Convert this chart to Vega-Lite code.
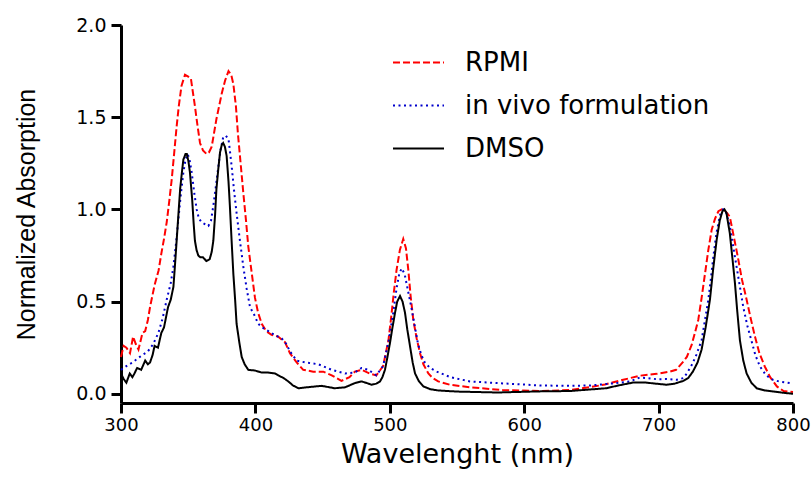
{
  "$schema": "https://vega.github.io/schema/vega-lite/v6.json",
  "width": 672,
  "height": 378,
  "autosize": {"type": "none"},
  "padding": {"left": 121, "top": 25, "right": 18, "bottom": 75},
  "background": "white",
  "config": {"view": {"stroke": null}, "font": "DejaVu Sans"},
  "data": {"values": [
    {"s":"RPMI","x":300,"y":0.2},{"s":"RPMI","x":302,"y":0.26},{"s":"RPMI","x":304,"y":0.25},{"s":"RPMI","x":306.7,"y":0.22},{"s":"RPMI","x":309,"y":0.31},{"s":"RPMI","x":311,"y":0.27},{"s":"RPMI","x":313,"y":0.24},{"s":"RPMI","x":316,"y":0.33},{"s":"RPMI","x":318,"y":0.34},{"s":"RPMI","x":320,"y":0.4},{"s":"RPMI","x":321.6,"y":0.47},{"s":"RPMI","x":325,"y":0.59},{"s":"RPMI","x":328,"y":0.67},{"s":"RPMI","x":330,"y":0.76},{"s":"RPMI","x":332,"y":0.84},{"s":"RPMI","x":334,"y":0.93},{"s":"RPMI","x":336,"y":1.05},{"s":"RPMI","x":337.7,"y":1.16},{"s":"RPMI","x":339.5,"y":1.3},{"s":"RPMI","x":341.4,"y":1.45},{"s":"RPMI","x":343,"y":1.56},{"s":"RPMI","x":345,"y":1.67},{"s":"RPMI","x":347.6,"y":1.73},{"s":"RPMI","x":350,"y":1.72},{"s":"RPMI","x":352,"y":1.71},{"s":"RPMI","x":355,"y":1.56},{"s":"RPMI","x":357,"y":1.45},{"s":"RPMI","x":358.8,"y":1.36},{"s":"RPMI","x":361,"y":1.32},{"s":"RPMI","x":363.7,"y":1.3},{"s":"RPMI","x":365.5,"y":1.31},{"s":"RPMI","x":367.5,"y":1.34},{"s":"RPMI","x":371,"y":1.49},{"s":"RPMI","x":373,"y":1.56},{"s":"RPMI","x":375,"y":1.63},{"s":"RPMI","x":377.5,"y":1.7},{"s":"RPMI","x":380,"y":1.75},{"s":"RPMI","x":382,"y":1.73},{"s":"RPMI","x":383.6,"y":1.68},{"s":"RPMI","x":385.5,"y":1.56},{"s":"RPMI","x":387,"y":1.41},{"s":"RPMI","x":389,"y":1.25},{"s":"RPMI","x":391,"y":1.09},{"s":"RPMI","x":393,"y":0.94},{"s":"RPMI","x":394.7,"y":0.8},{"s":"RPMI","x":397,"y":0.67},{"s":"RPMI","x":399.7,"y":0.52},{"s":"RPMI","x":402,"y":0.44},{"s":"RPMI","x":404.7,"y":0.38},{"s":"RPMI","x":408,"y":0.34},{"s":"RPMI","x":412,"y":0.32},{"s":"RPMI","x":417,"y":0.31},{"s":"RPMI","x":422,"y":0.28},{"s":"RPMI","x":425.7,"y":0.22},{"s":"RPMI","x":430.7,"y":0.17},{"s":"RPMI","x":435.6,"y":0.13},{"s":"RPMI","x":443,"y":0.12},{"s":"RPMI","x":450.5,"y":0.12},{"s":"RPMI","x":456.8,"y":0.1},{"s":"RPMI","x":464,"y":0.07},{"s":"RPMI","x":470,"y":0.09},{"s":"RPMI","x":474,"y":0.12},{"s":"RPMI","x":479,"y":0.13},{"s":"RPMI","x":485,"y":0.11},{"s":"RPMI","x":490,"y":0.1},{"s":"RPMI","x":495,"y":0.15},{"s":"RPMI","x":499,"y":0.29},{"s":"RPMI","x":501.4,"y":0.44},{"s":"RPMI","x":503,"y":0.55},{"s":"RPMI","x":505,"y":0.67},{"s":"RPMI","x":507.5,"y":0.78},{"s":"RPMI","x":510,"y":0.84},{"s":"RPMI","x":512,"y":0.79},{"s":"RPMI","x":513.8,"y":0.67},{"s":"RPMI","x":515.5,"y":0.53},{"s":"RPMI","x":517.5,"y":0.4},{"s":"RPMI","x":520,"y":0.3},{"s":"RPMI","x":522.5,"y":0.22},{"s":"RPMI","x":525,"y":0.16},{"s":"RPMI","x":528.7,"y":0.11},{"s":"RPMI","x":532,"y":0.085},{"s":"RPMI","x":536,"y":0.067},{"s":"RPMI","x":544.8,"y":0.049},{"s":"RPMI","x":560,"y":0.035},{"s":"RPMI","x":584,"y":0.02},{"s":"RPMI","x":611.7,"y":0.015},{"s":"RPMI","x":634,"y":0.02},{"s":"RPMI","x":649,"y":0.036},{"s":"RPMI","x":660,"y":0.05},{"s":"RPMI","x":673.7,"y":0.076},{"s":"RPMI","x":686,"y":0.098},{"s":"RPMI","x":698.6,"y":0.108},{"s":"RPMI","x":708.5,"y":0.12},{"s":"RPMI","x":713,"y":0.13},{"s":"RPMI","x":718.4,"y":0.175},{"s":"RPMI","x":721,"y":0.2},{"s":"RPMI","x":724.6,"y":0.265},{"s":"RPMI","x":727,"y":0.33},{"s":"RPMI","x":729.5,"y":0.4},{"s":"RPMI","x":732,"y":0.52},{"s":"RPMI","x":734.5,"y":0.65},{"s":"RPMI","x":737,"y":0.78},{"s":"RPMI","x":739.5,"y":0.89},{"s":"RPMI","x":742,"y":0.95},{"s":"RPMI","x":744.5,"y":0.99},{"s":"RPMI","x":747,"y":1.0},{"s":"RPMI","x":749,"y":0.995},{"s":"RPMI","x":751,"y":0.98},{"s":"RPMI","x":753,"y":0.96},{"s":"RPMI","x":756,"y":0.85},{"s":"RPMI","x":759,"y":0.74},{"s":"RPMI","x":762,"y":0.62},{"s":"RPMI","x":765.5,"y":0.51},{"s":"RPMI","x":768.5,"y":0.41},{"s":"RPMI","x":771.7,"y":0.31},{"s":"RPMI","x":775,"y":0.22},{"s":"RPMI","x":779,"y":0.148},{"s":"RPMI","x":783,"y":0.09},{"s":"RPMI","x":788,"y":0.04},{"s":"RPMI","x":793,"y":0.015},{"s":"RPMI","x":800,"y":0.01},

    {"s":"in vivo formulation","x":300,"y":0.13},{"s":"in vivo formulation","x":304,"y":0.15},{"s":"in vivo formulation","x":308.5,"y":0.17},{"s":"in vivo formulation","x":314,"y":0.2},{"s":"in vivo formulation","x":320,"y":0.23},{"s":"in vivo formulation","x":324,"y":0.27},{"s":"in vivo formulation","x":327.8,"y":0.33},{"s":"in vivo formulation","x":331,"y":0.41},{"s":"in vivo formulation","x":334,"y":0.51},{"s":"in vivo formulation","x":337,"y":0.6},{"s":"in vivo formulation","x":339,"y":0.69},{"s":"in vivo formulation","x":341,"y":0.82},{"s":"in vivo formulation","x":342.6,"y":0.94},{"s":"in vivo formulation","x":344.5,"y":1.08},{"s":"in vivo formulation","x":346.4,"y":1.2},{"s":"in vivo formulation","x":348,"y":1.27},{"s":"in vivo formulation","x":349.6,"y":1.3},{"s":"in vivo formulation","x":351,"y":1.27},{"s":"in vivo formulation","x":352.6,"y":1.2},{"s":"in vivo formulation","x":354.5,"y":1.09},{"s":"in vivo formulation","x":356.3,"y":1.0},{"s":"in vivo formulation","x":358,"y":0.95},{"s":"in vivo formulation","x":360,"y":0.93},{"s":"in vivo formulation","x":365,"y":0.91},{"s":"in vivo formulation","x":367,"y":0.94},{"s":"in vivo formulation","x":368.7,"y":1.02},{"s":"in vivo formulation","x":370.5,"y":1.12},{"s":"in vivo formulation","x":372.4,"y":1.23},{"s":"in vivo formulation","x":374,"y":1.32},{"s":"in vivo formulation","x":376,"y":1.39},{"s":"in vivo formulation","x":378,"y":1.4},{"s":"in vivo formulation","x":380,"y":1.38},{"s":"in vivo formulation","x":381,"y":1.32},{"s":"in vivo formulation","x":382.4,"y":1.23},{"s":"in vivo formulation","x":384,"y":1.11},{"s":"in vivo formulation","x":386,"y":0.98},{"s":"in vivo formulation","x":388.5,"y":0.83},{"s":"in vivo formulation","x":391,"y":0.69},{"s":"in vivo formulation","x":393.5,"y":0.57},{"s":"in vivo formulation","x":396,"y":0.47},{"s":"in vivo formulation","x":399.7,"y":0.42},{"s":"in vivo formulation","x":402,"y":0.38},{"s":"in vivo formulation","x":405,"y":0.36},{"s":"in vivo formulation","x":409.6,"y":0.34},{"s":"in vivo formulation","x":414,"y":0.32},{"s":"in vivo formulation","x":419.6,"y":0.3},{"s":"in vivo formulation","x":423,"y":0.27},{"s":"in vivo formulation","x":425.7,"y":0.23},{"s":"in vivo formulation","x":430.7,"y":0.18},{"s":"in vivo formulation","x":437,"y":0.17},{"s":"in vivo formulation","x":446.8,"y":0.16},{"s":"in vivo formulation","x":456.8,"y":0.13},{"s":"in vivo formulation","x":466.7,"y":0.11},{"s":"in vivo formulation","x":474,"y":0.115},{"s":"in vivo formulation","x":479,"y":0.14},{"s":"in vivo formulation","x":484,"y":0.13},{"s":"in vivo formulation","x":490,"y":0.1},{"s":"in vivo formulation","x":495,"y":0.15},{"s":"in vivo formulation","x":499,"y":0.28},{"s":"in vivo formulation","x":502.6,"y":0.44},{"s":"in vivo formulation","x":505,"y":0.57},{"s":"in vivo formulation","x":507,"y":0.65},{"s":"in vivo formulation","x":508.8,"y":0.68},{"s":"in vivo formulation","x":511,"y":0.65},{"s":"in vivo formulation","x":513.5,"y":0.56},{"s":"in vivo formulation","x":516,"y":0.47},{"s":"in vivo formulation","x":518.5,"y":0.37},{"s":"in vivo formulation","x":521,"y":0.27},{"s":"in vivo formulation","x":523.5,"y":0.21},{"s":"in vivo formulation","x":526,"y":0.17},{"s":"in vivo formulation","x":530,"y":0.14},{"s":"in vivo formulation","x":535,"y":0.12},{"s":"in vivo formulation","x":545,"y":0.09},{"s":"in vivo formulation","x":559.6,"y":0.067},{"s":"in vivo formulation","x":580,"y":0.058},{"s":"in vivo formulation","x":600,"y":0.05},{"s":"in vivo formulation","x":611.7,"y":0.045},{"s":"in vivo formulation","x":634,"y":0.043},{"s":"in vivo formulation","x":649,"y":0.045},{"s":"in vivo formulation","x":668.8,"y":0.058},{"s":"in vivo formulation","x":678.7,"y":0.067},{"s":"in vivo formulation","x":686,"y":0.088},{"s":"in vivo formulation","x":692,"y":0.085},{"s":"in vivo formulation","x":698.6,"y":0.079},{"s":"in vivo formulation","x":706,"y":0.08},{"s":"in vivo formulation","x":713.5,"y":0.076},{"s":"in vivo formulation","x":718.4,"y":0.085},{"s":"in vivo formulation","x":721,"y":0.11},{"s":"in vivo formulation","x":725,"y":0.16},{"s":"in vivo formulation","x":728,"y":0.21},{"s":"in vivo formulation","x":732,"y":0.29},{"s":"in vivo formulation","x":734.5,"y":0.4},{"s":"in vivo formulation","x":737,"y":0.51},{"s":"in vivo formulation","x":739,"y":0.63},{"s":"in vivo formulation","x":740.7,"y":0.74},{"s":"in vivo formulation","x":743,"y":0.87},{"s":"in vivo formulation","x":745.7,"y":0.97},{"s":"in vivo formulation","x":748,"y":1.0},{"s":"in vivo formulation","x":750,"y":0.99},{"s":"in vivo formulation","x":753,"y":0.91},{"s":"in vivo formulation","x":755.5,"y":0.8},{"s":"in vivo formulation","x":758,"y":0.69},{"s":"in vivo formulation","x":760.5,"y":0.58},{"s":"in vivo formulation","x":763,"y":0.47},{"s":"in vivo formulation","x":766,"y":0.37},{"s":"in vivo formulation","x":769,"y":0.29},{"s":"in vivo formulation","x":772,"y":0.21},{"s":"in vivo formulation","x":775.4,"y":0.148},{"s":"in vivo formulation","x":780,"y":0.1},{"s":"in vivo formulation","x":785,"y":0.076},{"s":"in vivo formulation","x":790,"y":0.066},{"s":"in vivo formulation","x":795,"y":0.061},{"s":"in vivo formulation","x":800,"y":0.055},

    {"s":"DMSO","x":300,"y":0.11},{"s":"DMSO","x":302,"y":0.08},{"s":"DMSO","x":304,"y":0.06},{"s":"DMSO","x":306.5,"y":0.11},{"s":"DMSO","x":308.5,"y":0.09},{"s":"DMSO","x":310,"y":0.11},{"s":"DMSO","x":312,"y":0.14},{"s":"DMSO","x":315,"y":0.13},{"s":"DMSO","x":318,"y":0.18},{"s":"DMSO","x":320,"y":0.16},{"s":"DMSO","x":321.6,"y":0.17},{"s":"DMSO","x":323.5,"y":0.21},{"s":"DMSO","x":325,"y":0.26},{"s":"DMSO","x":327.5,"y":0.25},{"s":"DMSO","x":330,"y":0.33},{"s":"DMSO","x":332,"y":0.36},{"s":"DMSO","x":335,"y":0.47},{"s":"DMSO","x":337,"y":0.51},{"s":"DMSO","x":339,"y":0.58},{"s":"DMSO","x":340,"y":0.68},{"s":"DMSO","x":341.4,"y":0.83},{"s":"DMSO","x":342.7,"y":0.97},{"s":"DMSO","x":344,"y":1.11},{"s":"DMSO","x":345.3,"y":1.2},{"s":"DMSO","x":346.4,"y":1.27},{"s":"DMSO","x":348,"y":1.3},{"s":"DMSO","x":349,"y":1.3},{"s":"DMSO","x":350.2,"y":1.26},{"s":"DMSO","x":351.3,"y":1.2},{"s":"DMSO","x":352.2,"y":1.12},{"s":"DMSO","x":353,"y":1.05},{"s":"DMSO","x":354,"y":0.93},{"s":"DMSO","x":355,"y":0.83},{"s":"DMSO","x":356.2,"y":0.78},{"s":"DMSO","x":357.5,"y":0.75},{"s":"DMSO","x":359,"y":0.74},{"s":"DMSO","x":361,"y":0.74},{"s":"DMSO","x":363.5,"y":0.72},{"s":"DMSO","x":366,"y":0.73},{"s":"DMSO","x":367.5,"y":0.77},{"s":"DMSO","x":368.7,"y":0.83},{"s":"DMSO","x":370,"y":0.97},{"s":"DMSO","x":371,"y":1.11},{"s":"DMSO","x":372.4,"y":1.22},{"s":"DMSO","x":373.7,"y":1.31},{"s":"DMSO","x":375,"y":1.35},{"s":"DMSO","x":376,"y":1.36},{"s":"DMSO","x":377.3,"y":1.34},{"s":"DMSO","x":378.6,"y":1.29},{"s":"DMSO","x":380,"y":1.15},{"s":"DMSO","x":381,"y":1.02},{"s":"DMSO","x":382.3,"y":0.83},{"s":"DMSO","x":383.6,"y":0.65},{"s":"DMSO","x":385,"y":0.5},{"s":"DMSO","x":386,"y":0.38},{"s":"DMSO","x":388,"y":0.28},{"s":"DMSO","x":389.8,"y":0.2},{"s":"DMSO","x":392,"y":0.16},{"s":"DMSO","x":394.7,"y":0.13},{"s":"DMSO","x":399.7,"y":0.126},{"s":"DMSO","x":404.7,"y":0.115},{"s":"DMSO","x":409.6,"y":0.115},{"s":"DMSO","x":414.6,"y":0.11},{"s":"DMSO","x":417,"y":0.1},{"s":"DMSO","x":421,"y":0.085},{"s":"DMSO","x":424.5,"y":0.067},{"s":"DMSO","x":428,"y":0.045},{"s":"DMSO","x":432,"y":0.03},{"s":"DMSO","x":439.4,"y":0.036},{"s":"DMSO","x":449.3,"y":0.043},{"s":"DMSO","x":459,"y":0.03},{"s":"DMSO","x":466.7,"y":0.035},{"s":"DMSO","x":474,"y":0.058},{"s":"DMSO","x":479,"y":0.067},{"s":"DMSO","x":483,"y":0.058},{"s":"DMSO","x":486.5,"y":0.049},{"s":"DMSO","x":490,"y":0.055},{"s":"DMSO","x":492.7,"y":0.067},{"s":"DMSO","x":494.5,"y":0.09},{"s":"DMSO","x":496.4,"y":0.13},{"s":"DMSO","x":498,"y":0.19},{"s":"DMSO","x":500,"y":0.27},{"s":"DMSO","x":502,"y":0.36},{"s":"DMSO","x":503.9,"y":0.44},{"s":"DMSO","x":505.5,"y":0.5},{"s":"DMSO","x":507.6,"y":0.53},{"s":"DMSO","x":509.5,"y":0.5},{"s":"DMSO","x":511.3,"y":0.44},{"s":"DMSO","x":513,"y":0.35},{"s":"DMSO","x":515,"y":0.26},{"s":"DMSO","x":517,"y":0.17},{"s":"DMSO","x":518.8,"y":0.11},{"s":"DMSO","x":521.5,"y":0.07},{"s":"DMSO","x":525,"y":0.04},{"s":"DMSO","x":530,"y":0.025},{"s":"DMSO","x":536,"y":0.018},{"s":"DMSO","x":550,"y":0.012},{"s":"DMSO","x":580,"y":0.007},{"s":"DMSO","x":611.7,"y":0.013},{"s":"DMSO","x":634,"y":0.015},{"s":"DMSO","x":661,"y":0.03},{"s":"DMSO","x":670,"y":0.045},{"s":"DMSO","x":681,"y":0.061},{"s":"DMSO","x":690,"y":0.061},{"s":"DMSO","x":698,"y":0.055},{"s":"DMSO","x":706,"y":0.049},{"s":"DMSO","x":712,"y":0.055},{"s":"DMSO","x":718.4,"y":0.07},{"s":"DMSO","x":722,"y":0.085},{"s":"DMSO","x":725.5,"y":0.12},{"s":"DMSO","x":729,"y":0.17},{"s":"DMSO","x":732,"y":0.24},{"s":"DMSO","x":735,"y":0.36},{"s":"DMSO","x":738.2,"y":0.51},{"s":"DMSO","x":740.5,"y":0.67},{"s":"DMSO","x":743.2,"y":0.835},{"s":"DMSO","x":745.5,"y":0.94},{"s":"DMSO","x":747.5,"y":0.99},{"s":"DMSO","x":749,"y":1.0},{"s":"DMSO","x":750.5,"y":0.98},{"s":"DMSO","x":753,"y":0.87},{"s":"DMSO","x":755,"y":0.73},{"s":"DMSO","x":756.8,"y":0.6},{"s":"DMSO","x":758.5,"y":0.45},{"s":"DMSO","x":760.5,"y":0.29},{"s":"DMSO","x":763,"y":0.18},{"s":"DMSO","x":765.5,"y":0.11},{"s":"DMSO","x":769,"y":0.06},{"s":"DMSO","x":773,"y":0.03},{"s":"DMSO","x":779,"y":0.018},{"s":"DMSO","x":785,"y":0.013},{"s":"DMSO","x":792,"y":0.006},{"s":"DMSO","x":800,"y":0.0}
  ]},
  "mark": {"type": "line", "strokeWidth": 2, "interpolate": "linear"},
  "encoding": {
    "x": {
      "field": "x", "type": "quantitative",
      "scale": {"domain": [300, 800], "nice": false, "zero": false},
      "axis": {
        "values": [300, 400, 500, 600, 700, 800],
        "grid": false, "labelFlush": false,
        "domainColor": "black", "domainWidth": 3,
        "tickColor": "black", "tickWidth": 3, "tickSize": 10,
        "labelFont": "DejaVu Sans", "labelFontSize": 18, "labelColor": "black", "labelPadding": 3,
        "title": "Wavelenght (nm)",
        "titleFont": "DejaVu Sans", "titleFontSize": 27, "titleFontWeight": "normal", "titleColor": "black", "titlePadding": 7
      }
    },
    "y": {
      "field": "y", "type": "quantitative",
      "scale": {"domain": [-0.05, 2.0], "nice": false, "zero": false},
      "axis": {
        "values": [0, 0.5, 1, 1.5, 2],
        "format": ".1f",
        "grid": false, "labelFlush": false,
        "domainColor": "black", "domainWidth": 3,
        "tickColor": "black", "tickWidth": 3, "tickSize": 10,
        "labelFont": "DejaVu Sans", "labelFontSize": 19, "labelColor": "black", "labelPadding": 5,
        "title": "Normalized Absorption",
        "titleFont": "Liberation Sans", "titleFontSize": 25, "titleFontWeight": "normal", "titleColor": "black", "titlePadding": 36
      }
    },
    "color": {
      "field": "s", "type": "nominal",
      "scale": {"domain": ["RPMI", "in vivo formulation", "DMSO"], "range": ["#ff0000", "#0000cc", "#000000"]},
      "legend": {
        "title": null, "orient": "none", "legendX": 271, "legendY": 11,
        "symbolType": "stroke", "symbolSize": 2601, "symbolStrokeWidth": 2,
        "labelFont": "DejaVu Sans", "labelFontSize": 26, "labelColor": "black", "labelOffset": 20, "labelLimit": 0,
        "rowPadding": 3
      }
    },
    "strokeDash": {
      "field": "s", "type": "nominal",
      "scale": {"domain": ["RPMI", "in vivo formulation", "DMSO"], "range": [[7, 3], [2, 3.5], [1, 0]]},
      "legend": {
        "title": null, "orient": "none", "legendX": 271, "legendY": 11,
        "symbolType": "stroke", "symbolSize": 2601, "symbolStrokeWidth": 2,
        "labelFont": "DejaVu Sans", "labelFontSize": 26, "labelColor": "black", "labelOffset": 20, "labelLimit": 0,
        "rowPadding": 3
      }
    }
  }
}
